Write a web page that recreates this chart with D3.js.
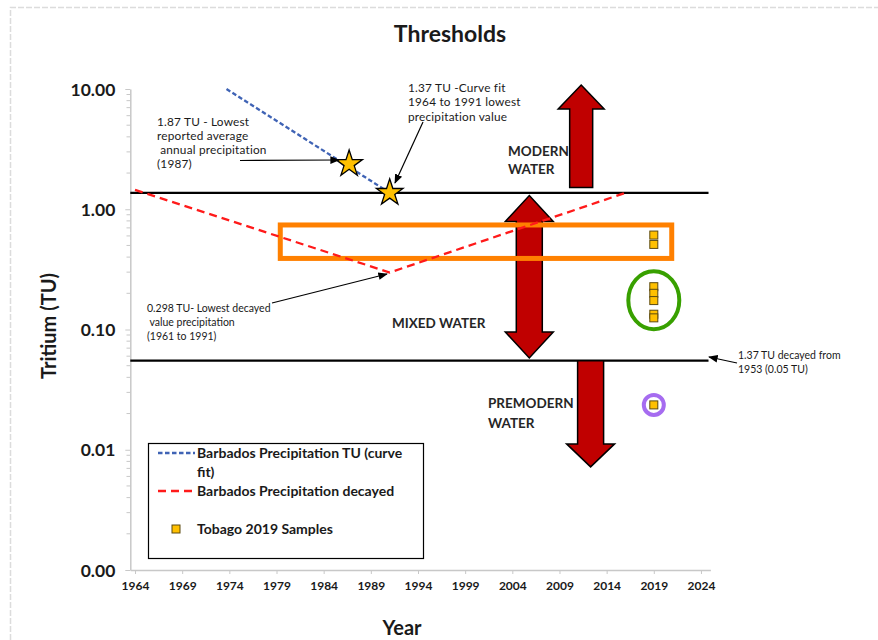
<!DOCTYPE html>
<html>
<head>
<meta charset="utf-8">
<script src="https://d3js.org/d3.v7.min.js"></script>
<style>
  body { margin: 0; background: #fff; }
  text { font-family: Lato, "Open Sans", sans-serif; fill: #1a1a1a; }
  .tick text { font-weight: bold; }
  .note { font-size: 10.5px; }
  .note-big { font-size: 11.8px; letter-spacing: 0.2px; }
  .zone { font-size: 13.5px; font-weight: bold; fill: #262626; }
</style>
</head>
<body>
<div id="chart"></div>
<script>
// --- data ---
var xTicks = [1964, 1969, 1974, 1979, 1984, 1989, 1994, 1999, 2004, 2009, 2014, 2019, 2024];
var yTicks = [0.001, 0.01, 0.1, 1, 10];
var yTickLabels = ["0.00", "0.01", "0.10", "1.00", "10.00"];

var curveFit = [[1973.7, 10], [1991, 1.37]];               // blue dashed
var decayed = [[1964, 1.45], [1991, 0.298], [2016, 1.37]];  // red dashed
var stars = [[1986.7, 2.38], [1991, 1.37]];
var samplesYear = 2019;
var samplesTU = [0.61, 0.51, 0.227, 0.2, 0.174, 0.134, 0.125, 0.0236];

var thresholdModern = 1.37;
var thresholdPremodern = 0.055;

// arrows: [center year, tip TU, tail TU]
var upArrow = [2011.3, 10.8, 1.52];
var downArrow = [2012.3, 0.0072, thresholdPremodern];
var doubleArrow = [2005.8, 1.3, 0.058];

// highlights
var orangeBox = [1979.4, 2020.9, 0.74, 0.39];
var greenRing = [2019, 0.175];
var purpleRing = [2019, 0.0236];

var width = 878, height = 640;

var svg = d3.select("#chart").append("svg")
  .attr("width", width)
  .attr("height", height);

// faint page frame
svg.append("path")
  .attr("d", "M10.5,640 V7.5 H878")
  .attr("fill", "none")
  .attr("stroke", "#dcdcdc")
  .attr("stroke-width", 1.5)
  .attr("stroke-dasharray", "6,2");

var x = d3.scaleLinear().domain([1963.5, 2025]).range([130.3, 710.4]);
var y = d3.scaleLog().domain([0.001, 10]).range([570, 89]);

// axes
var xAxis = svg.append("g")
  .attr("transform", "translate(0,570)")
  .call(d3.axisBottom(x).tickValues(xTicks).tickFormat(d3.format("d")).tickSize(4).tickSizeOuter(0));
xAxis.select(".domain").attr("stroke", "#c8c8c8").attr("stroke-width", 1.5);
xAxis.selectAll(".tick line").attr("stroke", "#c8c8c8");
xAxis.selectAll(".tick text").attr("font-size", 12).attr("dy", "1.05em");

var minorTicks = [];
[0.001, 0.01, 0.1, 1].forEach(function(d) {
  for (var k = 2; k <= 9; k++) minorTicks.push(d * k);
});

var yAxis = svg.append("g")
  .attr("transform", "translate(130.3,0)")
  .call(d3.axisLeft(y).tickValues(yTicks).tickFormat(function(d, i) { return yTickLabels[i]; }).tickSize(5).tickSizeOuter(0).tickPadding(10));
yAxis.select(".domain").attr("stroke", "#c8c8c8").attr("stroke-width", 1.5);
yAxis.selectAll(".tick line").attr("stroke", "#c8c8c8");
yAxis.selectAll(".tick text").attr("font-size", 17.5).attr("dy", "0.35em");

svg.append("g").selectAll("line")
  .data(minorTicks)
  .enter().append("line")
  .attr("x1", 126.5).attr("x2", 130.3)
  .attr("y1", function(d) { return y(d); })
  .attr("y2", function(d) { return y(d); })
  .attr("stroke", "#c8c8c8");

// titles
svg.append("text").attr("x", 450).attr("y", 42).attr("text-anchor", "middle")
  .attr("font-size", 23).attr("font-weight", "bold").text("Thresholds");
svg.append("text").attr("transform", "translate(56,326) rotate(-90)").attr("text-anchor", "middle")
  .attr("font-size", 20).attr("font-weight", "bold").text("Tritium (TU)");
svg.append("text").attr("x", 402).attr("y", 635).attr("text-anchor", "middle")
  .attr("font-size", 20).attr("font-weight", "bold").text("Year");

// threshold lines
[thresholdModern, thresholdPremodern].forEach(function(t) {
  svg.append("line")
    .attr("x1", x(1963.5)).attr("x2", x(2024.8))
    .attr("y1", y(t)).attr("y2", y(t))
    .attr("stroke", "#000").attr("stroke-width", 2.2);
});

// big arrows
function arrowPath(cx, yTip, yTail, shaftW, headW, headL) {
  var dir = yTip < yTail ? 1 : -1;
  var yb = yTip + dir * headL;
  return "M" + cx + "," + yTip +
    "L" + (cx + headW / 2) + "," + yb +
    "L" + (cx + shaftW / 2) + "," + yb +
    "L" + (cx + shaftW / 2) + "," + yTail +
    "L" + (cx - shaftW / 2) + "," + yTail +
    "L" + (cx - shaftW / 2) + "," + yb +
    "L" + (cx - headW / 2) + "," + yb + "Z";
}
function doubleArrowPath(cx, yTop, yBot, shaftW, headW, headL) {
  return "M" + cx + "," + yTop +
    "L" + (cx + headW / 2) + "," + (yTop + headL) +
    "L" + (cx + shaftW / 2) + "," + (yTop + headL) +
    "L" + (cx + shaftW / 2) + "," + (yBot - headL) +
    "L" + (cx + headW / 2) + "," + (yBot - headL) +
    "L" + cx + "," + yBot +
    "L" + (cx - headW / 2) + "," + (yBot - headL) +
    "L" + (cx - shaftW / 2) + "," + (yBot - headL) +
    "L" + (cx - shaftW / 2) + "," + (yTop + headL) +
    "L" + (cx - headW / 2) + "," + (yTop + headL) + "Z";
}
var arrowStyle = function(sel) {
  sel.attr("fill", "#c00000").attr("stroke", "#000").attr("stroke-width", 1.5).attr("stroke-linejoin", "miter");
};
svg.append("path").attr("d", arrowPath(x(upArrow[0]), y(upArrow[1]), y(upArrow[2]), 23, 46, 24)).call(arrowStyle);
svg.append("path").attr("d", arrowPath(x(downArrow[0]), y(downArrow[1]), y(downArrow[2]), 26, 48, 23)).call(arrowStyle);
svg.append("path").attr("d", doubleArrowPath(x(doubleArrow[0]), y(doubleArrow[1]), y(doubleArrow[2]), 26, 48, 26)).call(arrowStyle);

// highlights
svg.append("rect")
  .attr("x", x(orangeBox[0])).attr("y", y(orangeBox[2]))
  .attr("width", x(orangeBox[1]) - x(orangeBox[0]))
  .attr("height", y(orangeBox[3]) - y(orangeBox[2]))
  .attr("fill", "none").attr("stroke", "#ff8000").attr("stroke-width", 5);
svg.append("ellipse")
  .attr("cx", x(greenRing[0])).attr("cy", y(greenRing[1]))
  .attr("rx", 25.5).attr("ry", 29)
  .attr("fill", "none").attr("stroke", "#38a000").attr("stroke-width", 4);
svg.append("circle")
  .attr("cx", x(purpleRing[0])).attr("cy", y(purpleRing[1]))
  .attr("r", 10)
  .attr("fill", "none").attr("stroke", "#a66cf0").attr("stroke-width", 4);

// lines
var line = d3.line().x(function(d) { return x(d[0]); }).y(function(d) { return y(d[1]); });
svg.append("path").datum(decayed).attr("d", line)
  .attr("fill", "none").attr("stroke", "#ff1a1a").attr("stroke-width", 2.3).attr("stroke-dasharray", "8,5");
svg.append("path").datum(curveFit).attr("d", line)
  .attr("fill", "none").attr("stroke", "#3f63b5").attr("stroke-width", 2.3).attr("stroke-dasharray", "4.5,2.5");

// samples
svg.append("g").selectAll("rect")
  .data(samplesTU)
  .enter().append("rect")
  .attr("x", x(samplesYear) - 4).attr("y", function(d) { return y(d) - 4; })
  .attr("width", 8).attr("height", 8)
  .attr("fill", "#ffc000").attr("stroke", "#5c4a10").attr("stroke-width", 1);

// stars
var star = d3.symbol().type(d3.symbolStar).size(220);
svg.append("g").selectAll("path")
  .data(stars)
  .enter().append("path")
  .attr("d", star)
  .attr("transform", function(d) { return "translate(" + x(d[0]) + "," + y(d[1]) + ")"; })
  .attr("fill", "#ffc000").attr("stroke", "#000").attr("stroke-width", 1.3);

// annotations
svg.append("defs").append("marker")
  .attr("id", "ah").attr("viewBox", "0 0 10 10").attr("refX", 9).attr("refY", 5)
  .attr("markerWidth", 8).attr("markerHeight", 8).attr("orient", "auto")
  .append("path").attr("d", "M0,1 L10,5 L0,9 Z").attr("fill", "#000");

function note(lines, x0, y0, dy, cls) {
  var t = svg.append("text").attr("class", cls || "note");
  lines.forEach(function(s, i) {
    t.append("tspan").attr("x", x0).attr("y", y0 + i * dy).text(s);
  });
}
function pointer(x1, y1, x2, y2) {
  svg.append("line").attr("x1", x1).attr("y1", y1).attr("x2", x2).attr("y2", y2)
    .attr("stroke", "#000").attr("stroke-width", 1.2).attr("marker-end", "url(#ah)");
}

note(["1.87 TU - Lowest", "reported average", " annual precipitation", "(1987)"], 157, 125.5, 14.3, "note-big");
pointer(240, 160.5, 339, 160);
note(["1.37 TU -Curve fit", "1964 to 1991 lowest", "precipitation value"], 408, 92, 14.3, "note-big");
pointer(423, 122, 395, 183);
note(["0.298 TU- Lowest decayed", " value precipitation", "(1961 to 1991)"], 147, 312, 14);
pointer(272, 303, 387, 274);
note(["1.37 TU decayed from", "1953 (0.05 TU)"], 738, 359, 14);
pointer(737, 363, 709, 357);

note(["MODERN", "WATER"], 508, 156, 18, "zone");
note(["MIXED WATER"], 392, 328, 18, "zone");
note(["PREMODERN", "WATER"], 488, 408, 20, "zone");

// legend
var lg = svg.append("g");
lg.append("rect").attr("x", 148.5).attr("y", 443.5).attr("width", 275).attr("height", 115)
  .attr("fill", "#fff").attr("stroke", "#000").attr("stroke-width", 1.2);
lg.append("line").attr("x1", 158).attr("x2", 195).attr("y1", 453).attr("y2", 453)
  .attr("stroke", "#3f63b5").attr("stroke-width", 2.3).attr("stroke-dasharray", "4.5,2.5");
lg.append("line").attr("x1", 158).attr("x2", 196).attr("y1", 491).attr("y2", 491)
  .attr("stroke", "#ff1a1a").attr("stroke-width", 2.3).attr("stroke-dasharray", "8,5");
lg.append("rect").attr("x", 172).attr("y", 525).attr("width", 8).attr("height", 8)
  .attr("fill", "#ffc000").attr("stroke", "#5c4a10");
var lt = lg.append("text").attr("font-size", 14).attr("font-weight", "bold").attr("fill", "#262626");
lt.append("tspan").attr("x", 197).attr("y", 458).text("Barbados Precipitation TU (curve");
lt.append("tspan").attr("x", 197).attr("y", 477).text("fit)");
lt.append("tspan").attr("x", 197).attr("y", 496).text("Barbados Precipitation decayed");
lt.append("tspan").attr("x", 197).attr("y", 534).text("Tobago 2019 Samples");
</script>
</body>
</html>
